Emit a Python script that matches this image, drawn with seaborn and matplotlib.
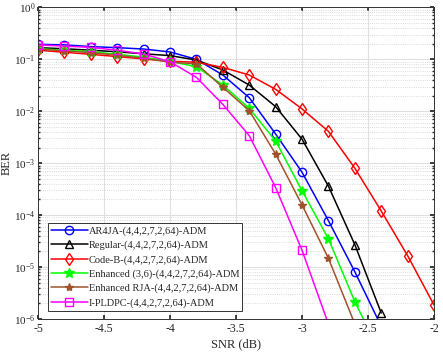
import numpy as np
import pandas as pd
import seaborn as sns
import matplotlib.pyplot as plt

# SNR points (dB)
snr = [-5.0, -4.8, -4.6, -4.4, -4.2, -4.0, -3.8, -3.6, -3.4, -3.2, -3.0, -2.8, -2.6, -2.4, -2.2, -2.0]

# BER curves
ber_ar4ja = [0.195, 0.19, 0.176, 0.168, 0.158, 0.139, 0.1, 0.05, 0.0183, 0.00365, 6.7e-4, 7.8e-5, 8.1e-6, 7.2e-7]
ber_regular = [0.168, 0.16, 0.15, 0.14, 0.128, 0.118, 0.097, 0.0625, 0.032, 0.0123, 0.0029, 3.6e-4, 2.7e-5, 1.3e-6]
ber_codeb = [0.15, 0.137, 0.125, 0.113, 0.102, 0.092, 0.088, 0.07, 0.05, 0.0265, 0.0111, 0.0041, 8.0e-4, 1.2e-4, 1.65e-5, 1.85e-6]
ber_enh36 = [0.16, 0.15, 0.14, 0.125, 0.11, 0.092, 0.072, 0.032, 0.0114, 0.00268, 2.95e-4, 3.5e-5, 2.15e-6, 2.0e-7]
ber_enhrja = [0.158, 0.145, 0.135, 0.12, 0.105, 0.088, 0.082, 0.029, 0.0103, 0.0015, 1.57e-4, 1.47e-5, 8.0e-7]
ber_ipldpc = [0.19, 0.18, 0.17, 0.15, 0.127, 0.09, 0.045, 0.0136, 0.0034, 3.4e-4, 2.1e-5, 8.0e-7]

labels = ['AR4JA-(4,4,2,7,2,64)-ADM', 'Regular-(4,4,2,7,2,64)-ADM', 'Code-B-(4,4,2,7,2,64)-ADM',
          'Enhanced (3,6)-(4,4,2,7,2,64)-ADM', 'Enhanced RJA-(4,4,2,7,2,64)-ADM', 'I-PLDPC-(4,4,2,7,2,64)-ADM']
series = [ber_ar4ja, ber_regular, ber_codeb, ber_enh36, ber_enhrja, ber_ipldpc]
colors = ['#0000ff', '#000000', '#ff0000', '#00ff00', '#a0522d', '#ff00ff']
markers = ['o', '^', 'd', '*', '*', 's']
msizes = [6, 6, 6, 7, 6, 5.5]
filled = [False, False, False, True, True, False]

sns.set_theme(style="ticks")
plt.rcParams['font.family'] = ['Liberation Serif', 'DejaVu Serif']
plt.rcParams['mathtext.fontset'] = 'stix'

fig = plt.figure(figsize=(4.43, 3.54), dpi=100)
ax = fig.add_axes([0.0858, 0.099, 0.894, 0.88])

for ber, lab, col, mk, ms, fl in zip(series, labels, colors, markers, msizes, filled):
    df = pd.DataFrame({'snr': snr[:len(ber)], 'ber': ber})
    sns.lineplot(data=df, x='snr', y='ber', ax=ax, color=col, marker=mk, label=lab,
                 linewidth=1.1, markersize=ms,
                 markerfacecolor=col if fl else 'none', markeredgecolor=col,
                 markeredgewidth=1.0)

ax.set_yscale('log')
ax.set_xlim(-5, -2)
ax.set_ylim(1e-6, 1)
ax.set_xticks(np.arange(-5, -1.9, 0.5))
ax.set_xticklabels(['-5', '-4.5', '-4', '-3.5', '-3', '-2.5', '-2'])
ax.set_xlabel('SNR (dB)', fontsize=9, labelpad=2)
ax.set_ylabel('BER', fontsize=9, labelpad=1)
ax.tick_params(axis='both', which='both', direction='in', top=True, right=True, pad=3)
ax.tick_params(axis='x', labelsize=8.5)
ax.tick_params(axis='y', labelsize=8, pad=2)
ax.tick_params(which='major', length=3)
ax.tick_params(which='minor', length=1.5)
ax.grid(True, which='major', color='#e0e0e0', linestyle='-', linewidth=0.8)
ax.grid(True, which='minor', color='#cfcfcf', linestyle=':', linewidth=0.6)
for sp in ax.spines.values():
    sp.set_color('#333333')
    sp.set_linewidth(0.7)

leg = ax.legend(loc='lower left', bbox_to_anchor=(0.02, 0.02), fontsize=7.5, frameon=True,
                fancybox=False, edgecolor='#333333', framealpha=1, borderpad=0.3,
                labelspacing=0.45, handlelength=3.5, handletextpad=0.1, borderaxespad=0.2)
leg.get_frame().set_linewidth(0.7)

fig.savefig('out.png', dpi=100)
